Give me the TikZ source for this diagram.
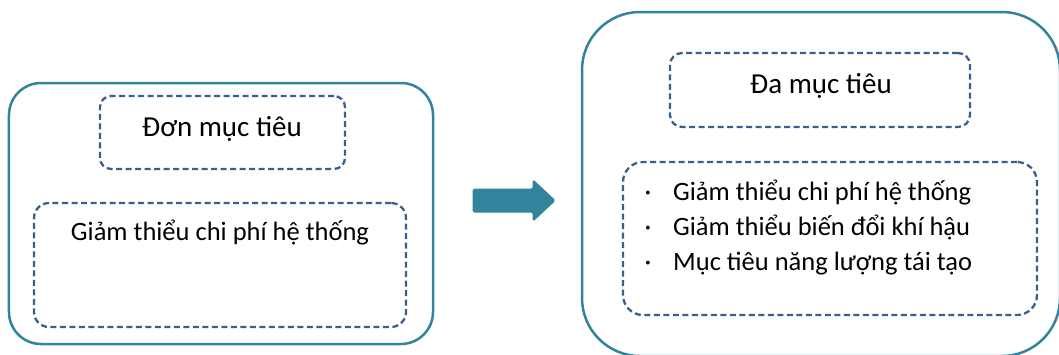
\documentclass[tikz,border=0pt]{standalone}
\usepackage{fontspec}
\setmainfont{Carlito}
\definecolor{frameteal}{HTML}{31849B}
\definecolor{dashblue}{HTML}{3A5F8B}
\tikzset{
  panel/.style={draw=frameteal, line width=2.5bp, inner sep=0pt},
  dashbox/.style={draw=dashblue, line width=2.3bp, dash pattern=on 6bp off 3.5bp, inner sep=0pt},
  titletext/.style={font=\fontsize{29bp}{34bp}\selectfont, inner sep=0pt, anchor=base},
  bodytext/.style={font=\fontsize{26.5bp}{35bp}\selectfont, inner sep=0pt, anchor=base},
  blockarrow/.style={fill=frameteal, draw=frameteal, line width=1bp, rounded corners=1.5bp},
}
\begin{document}
\begin{tikzpicture}[x=1bp, y=-1bp]
\useasboundingbox (0,0) rectangle (1059,354);
\begin{scope}
\clip (0,0) rectangle (1059,354);
% left panel: single objective
\node[panel, rounded corners=32bp, minimum width=424bp, minimum height=261bp] (leftpanel) at (221,213.5) {};
\node[dashbox, rounded corners=11bp, minimum width=245bp, minimum height=73bp] (lefttitle) at (222.5,132.5) {};
\node[dashbox, rounded corners=15bp, minimum width=372bp, minimum height=124bp] (leftbody) at (220,265) {};
\node[titletext] (lefttitletext) at (222,136) {Đơn mục tiêu};
\node[bodytext] (leftbodytext) at (220,240) {Giảm thiểu chi phí hệ thống};
% right panel: multiple objectives
\node[panel, rounded corners=58bp, minimum width=478bp, minimum height=344bp] (rightpanel) at (821,184) {};
\node[dashbox, rounded corners=12bp, minimum width=300bp, minimum height=74bp] (righttitle) at (820,90) {};
\node[dashbox, rounded corners=20bp, minimum width=414bp, minimum height=153bp] (rightbody) at (830,238.5) {};
\node[titletext] (righttitletext) at (821,93) {Đa mục tiêu};
\node[bodytext, anchor=base west] (goalA) at (673,200) {Giảm thiểu chi phí hệ thống};
\node[bodytext, anchor=base west] (goalB) at (673,235) {Giảm thiểu biến đổi khí hậu};
\node[bodytext, anchor=base west] (goalC) at (673,270) {Mục tiêu năng lượng tái tạo};
\foreach \g in {goalA,goalB,goalC}
  \node[bodytext, anchor=base] at ([xshift=-25bp]\g.base west) {·};
% transition arrow between the panels
\coordinate (shift) at (473,200.5);
\path[blockarrow] ([shift={(0,-11.5)}]shift) -- ++(60,0) -- ++(0,-9) -- ++(22,20.5)
  -- ++(-22,20.5) -- ++(0,-9) -- ++(-60,0) -- cycle;
\end{scope}
\end{tikzpicture}
\end{document}
